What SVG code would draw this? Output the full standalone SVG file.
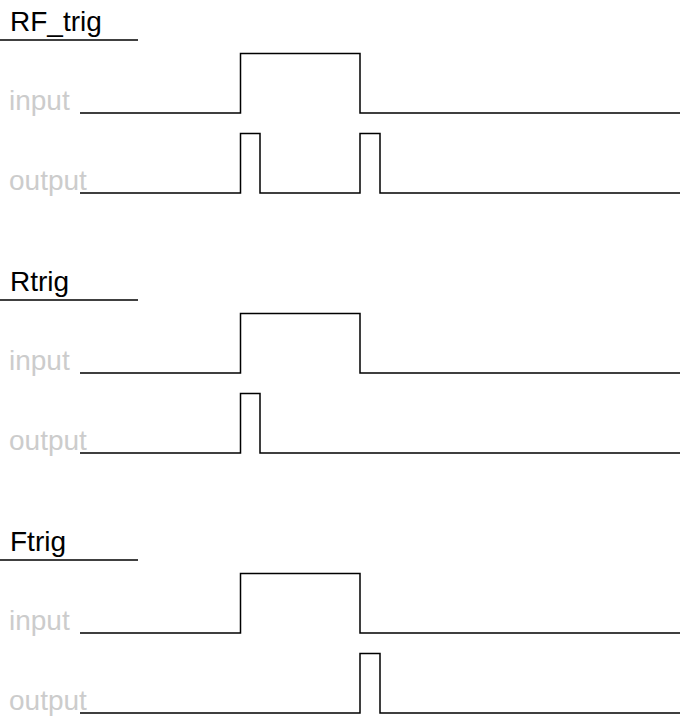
<svg xmlns="http://www.w3.org/2000/svg" width="686" height="725" viewBox="0 0 686 725">
<style>
.title{font-family:"Liberation Sans",Arial,sans-serif;font-size:28px;fill:#000}
.lbl{font-family:"Liberation Sans",Arial,sans-serif;font-size:28px;fill:#cccccc}
.sig{fill:none;stroke:#000;stroke-width:1.5}
.ul{stroke:#000;stroke-width:1.3}
</style>
<rect width="686" height="725" fill="#fff"/>
<g id="rf_trig">
<text class="title" x="10" y="31">RF_trig</text>
<line class="ul" x1="0" y1="40" x2="138" y2="40"/>
<text class="lbl" x="9" y="110">input</text>
<text class="lbl" x="9" y="190">output</text>
</g>
<g id="rtrig">
<text class="title" x="10" y="291">Rtrig</text>
<line class="ul" x1="0" y1="300" x2="138" y2="300"/>
<text class="lbl" x="9" y="370">input</text>
<text class="lbl" x="9" y="450">output</text>
</g>
<g id="ftrig">
<text class="title" x="10" y="551">Ftrig</text>
<line class="ul" x1="0" y1="560" x2="138" y2="560"/>
<text class="lbl" x="9" y="630">input</text>
<text class="lbl" x="9" y="710">output</text>
</g>
<g id="signals">
<path class="sig" d="M80,113H240.5V53.5H360V113H680"/>
<path class="sig" d="M80,193H240.5V133.5H260V193H360V133.5H380V193H680"/>
<path class="sig" d="M80,373H240.5V313.5H360V373H680"/>
<path class="sig" d="M80,453H240.5V393.5H260V453H680"/>
<path class="sig" d="M80,633H240.5V573.5H360V633H680"/>
<path class="sig" d="M80,713H360V653.5H380V713H680"/>
</g>
</svg>
